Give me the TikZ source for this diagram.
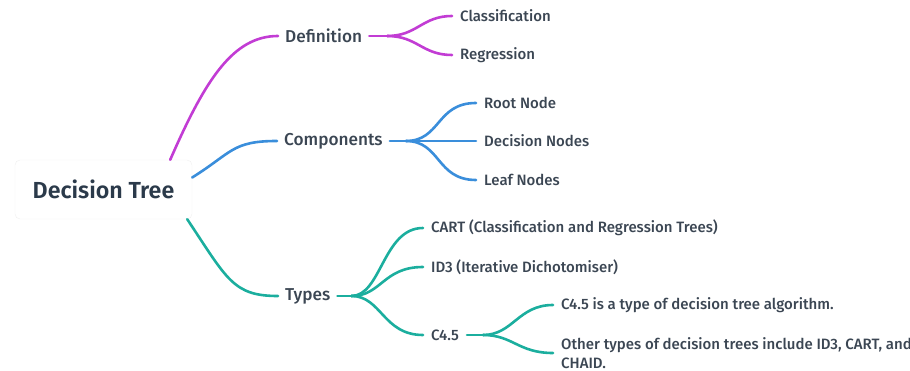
\documentclass[tikz,border=0pt]{standalone}
\usepackage{fontspec}
\setmainfont{Fira Sans Medium}[BoldFont={Fira Sans SemiBold}]
\usetikzlibrary{calc}
\definecolor{cMag}{HTML}{C23CD4}
\definecolor{cBlue}{HTML}{3A8EDB}
\definecolor{cTeal}{HTML}{1BAE9E}
\definecolor{cText}{HTML}{3B4653}
\definecolor{cRoot}{HTML}{2B3A4A}
\tikzset{
  rootbox/.style={draw=black!6, fill=white, rounded corners=5pt,
    minimum width=177pt, minimum height=59pt, inner sep=0pt,
    font=\fontsize{23.2}{27}\selectfont\bfseries, text=cRoot},
  topic/.style={anchor=west, inner xsep=7pt, inner ysep=2pt,
    font=\fontsize{17.2}{20}\selectfont, text=cText},
  leaf/.style={anchor=west, inner xsep=8pt, inner ysep=2pt,
    font=\fontsize{15}{19}\selectfont, text=cText, align=left},
  link/.style={line width=2.6pt, line cap=round},
}
\begin{document}
\begin{tikzpicture}[x=1pt,y=-1pt]
\useasboundingbox (0,0) rectangle (910,371);

% root
\node[rootbox] (root) at (103.5,189.5) {Decision Tree};

% first level
\node[topic] (def)  at (278,36)  {Definition};
\node[topic] (comp) at (277,141) {Components};
\node[topic] (typ)  at (278,296) {Types};

% second level
\node[leaf] (cls)  at (452,16)  {Classification};
\node[leaf] (reg)  at (452,55)  {Regression};
\node[leaf] (rootn) at (476,103) {Root Node};
\node[leaf] (decn) at (476,141) {Decision Nodes};
\node[leaf] (leafn) at (476,180) {Leaf Nodes};
\node[leaf] (cart) at (423,228) {CART (Classification and Regression Trees)};
\node[leaf] (id3)  at (423,267) {ID3 (Iterative Dichotomiser)};
\node[leaf] (c45)  at (423,335) {C4.5};

% third level
\node[leaf] (c45a) at (553,305) {C4.5 is a type of decision tree algorithm.};
\node[leaf] (c45b) at (553,353) {Other types of decision trees include ID3, CART, and\\CHAID.};

% root connectors
\coordinate (rm) at ($(root.north east)+(-22,0)$);
\coordinate (rb) at ($(root.east)+(0,-12)$);
\coordinate (rt) at ($(root.south east)+(-5,0)$);
\draw[link,cMag]  (rm) .. controls +(35,-80) and +(-45,0) .. (def.west);
\draw[link,cBlue] (rb) .. controls +(40,-25) and +(-45,0) .. (comp.west);
\draw[link,cTeal] (rt) .. controls +(40,60) and +(-45,0) .. (typ.west);

% definition children
\draw[link,cMag] (def.east) -- ++(18,0) coordinate (dj);
\draw[link,cMag] (dj) .. controls +(30,0) and +(-30,0) .. (cls.west);
\draw[link,cMag] (dj) .. controls +(30,0) and +(-30,0) .. (reg.west);

% components children
\draw[link,cBlue] (comp.east) -- ++(16,0) coordinate (cj);
\draw[link,cBlue] (cj) .. controls +(35,0) and +(-40,0) .. (rootn.west);
\draw[link,cBlue] (cj) -- (decn.west);
\draw[link,cBlue] (cj) .. controls +(35,0) and +(-40,0) .. (leafn.west);

% types children
\draw[link,cTeal] (typ.east) -- ++(14,0) coordinate (tj);
\draw[link,cTeal] (tj) .. controls +(30,0) and +(-40,0) .. (cart.west);
\draw[link,cTeal] (tj) .. controls +(30,0) and +(-40,0) .. (id3.west);
\draw[link,cTeal] (tj) .. controls +(30,0) and +(-40,0) .. (c45.west);

% C4.5 children
\draw[link,cTeal] (c45.east) -- ++(16,0) coordinate (qj);
\draw[link,cTeal] (qj) .. controls +(30,0) and +(-35,0) .. (c45a.west);
\draw[link,cTeal] (qj) .. controls +(30,0) and +(-35,0) .. (c45b.west);
\end{tikzpicture}
\end{document}
